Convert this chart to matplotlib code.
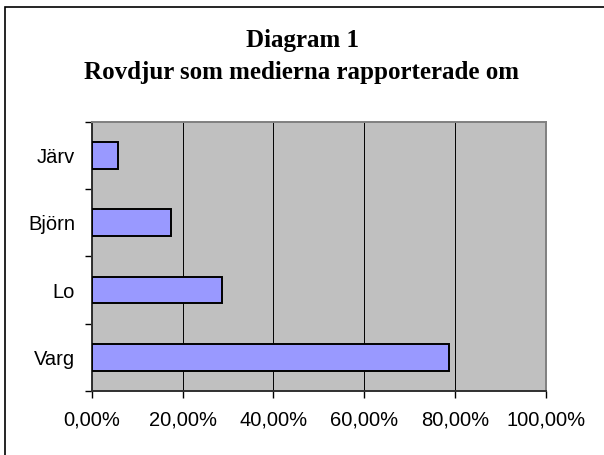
import matplotlib
matplotlib.use("Agg")
import matplotlib.pyplot as plt
from matplotlib.patches import Rectangle
from matplotlib.ticker import FuncFormatter, FixedLocator
import numpy as np

# data
djur = ["Varg", "Lo", "Björn", "Järv"]
andel = [78.7, 28.7, 17.5, 5.9]   # procent
xticks = [0, 20, 40, 60, 80, 100]

fig = plt.figure(figsize=(6.04, 4.55), dpi=100)
ax = fig.add_axes([0.1518, 0.1407, 0.904 - 0.1518, 0.7325 - 0.1407])

pos = np.arange(len(djur))
ax.barh(pos, andel, height=0.4, color="#9999FF", edgecolor="black",
        linewidth=1.4, zorder=3)

ax.set_facecolor("#C0C0C0")
ax.set_xlim(0, 100)
ax.set_ylim(-0.5, len(djur) - 0.5)

ax.set_xticks(xticks)
ax.xaxis.set_major_formatter(FuncFormatter(lambda v, p: f"{v:.2f}".replace(".", ",") + "%"))
ax.grid(axis="x", color="black", linewidth=0.7, zorder=1)

# category labels in the middle, ticks on the boundaries
ax.set_yticks(pos)
ax.set_yticklabels(djur)
ax.yaxis.set_minor_locator(FixedLocator(np.arange(-0.5, len(djur), 1.0)))
ax.tick_params(axis="y", which="major", length=0, pad=12)
ax.tick_params(axis="y", which="minor", length=5, width=1, direction="out")
ax.tick_params(axis="x", length=5, width=1, direction="out", pad=9)
for lab in ax.get_xticklabels() + ax.get_yticklabels():
    lab.set_fontfamily("Liberation Sans")
    lab.set_fontsize(14.5)

for s in ("left", "bottom"):
    ax.spines[s].set_color("#303030")
    ax.spines[s].set_linewidth(1.4)
for s in ("top", "right"):
    ax.spines[s].set_color("#808080")
    ax.spines[s].set_linewidth(1.4)

fig.text(0.5, 1 - 41 / 455, "Diagram 1", ha="center", va="center",
         fontfamily="Liberation Serif", fontweight="bold", fontsize=18)
fig.text(0.5, 1 - 73 / 455, "Rovdjur som medierna rapporterade om", ha="center",
         va="center", fontfamily="Liberation Serif", fontweight="bold", fontsize=18)

# outer chart frame, cut off at right and bottom
fig.patches.append(Rectangle((5 / 604, -0.1), 1.2, 1 - 7 / 455 + 0.1,
                             transform=fig.transFigure, fill=False,
                             edgecolor="black", linewidth=1.2))

fig.savefig("out.png", dpi=100)
